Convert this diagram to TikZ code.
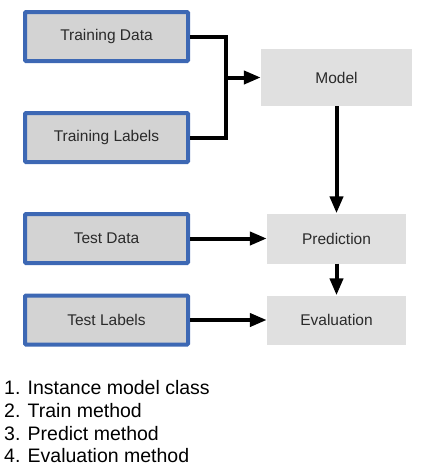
\documentclass[tikz,border=0pt]{standalone}
\usepackage{fontspec}
\setmainfont{Liberation Sans}
\usetikzlibrary{arrows.meta}
\definecolor{boxblue}{HTML}{3D68B4}
\definecolor{boxgray}{HTML}{D3D3D3}
\definecolor{lightbox}{HTML}{E0E0E0}
\definecolor{txt}{HTML}{2A2A2A}
\begin{document}
\begin{tikzpicture}[x=1pt,y=-1pt,
  inbox/.style={draw=boxblue,line width=4pt,fill=boxgray,minimum width=163pt,minimum height=49pt,inner sep=0pt,font=\fontsize{15.5}{18}\selectfont,text=txt,rounded corners=1pt},
  stagebox/.style={fill=lightbox,inner sep=0pt,font=\fontsize{15.5}{18}\selectfont,text=txt},
  joinline/.style={line width=4pt},
  flow/.style={line width=4pt,-{Triangle[length=17pt,width=13pt]}},
  listline/.style={anchor=base west,inner sep=0pt,font=\fontsize{19.5}{23}\selectfont}]
\useasboundingbox (0,0) rectangle (422,471);
\node[inbox] (td) at (106.5,36.5) {Training Data};
\node[inbox] (tl) at (106.5,137.5) {Training Labels};
\node[inbox] (sd) at (106.5,238.5) {Test Data};
\node[inbox] (sl) at (106.5,320) {Test Labels};
\node[stagebox,minimum width=151pt,minimum height=57pt] (model) at (336.5,77.5) {Model};
\node[stagebox,minimum width=139pt,minimum height=50pt] (pred) at (336.5,238.5) {Prediction};
\node[stagebox,minimum width=139pt,minimum height=49pt] (eval) at (336.5,320) {Evaluation};
\coordinate (j) at (226,77.5);
\draw[joinline] (td.east) -| (j) |- (tl.east);
\draw[flow] (j) -- (model.west);
\draw[flow] (model.south) -- (pred.north);
\draw[flow] (pred.south) -- (eval.north);
\draw[flow] (sd.east) -- (pred.west);
\draw[flow] (sl.east) -- (eval.west);
\node[listline] (l1) at (4,394) {1. Instance model class};
\node[listline] (l2) at (4,417) {2. Train method};
\node[listline] (l3) at (4,440) {3. Predict method};
\node[listline] (l4) at (4,462.5) {4. Evaluation method};
\end{tikzpicture}
\end{document}
